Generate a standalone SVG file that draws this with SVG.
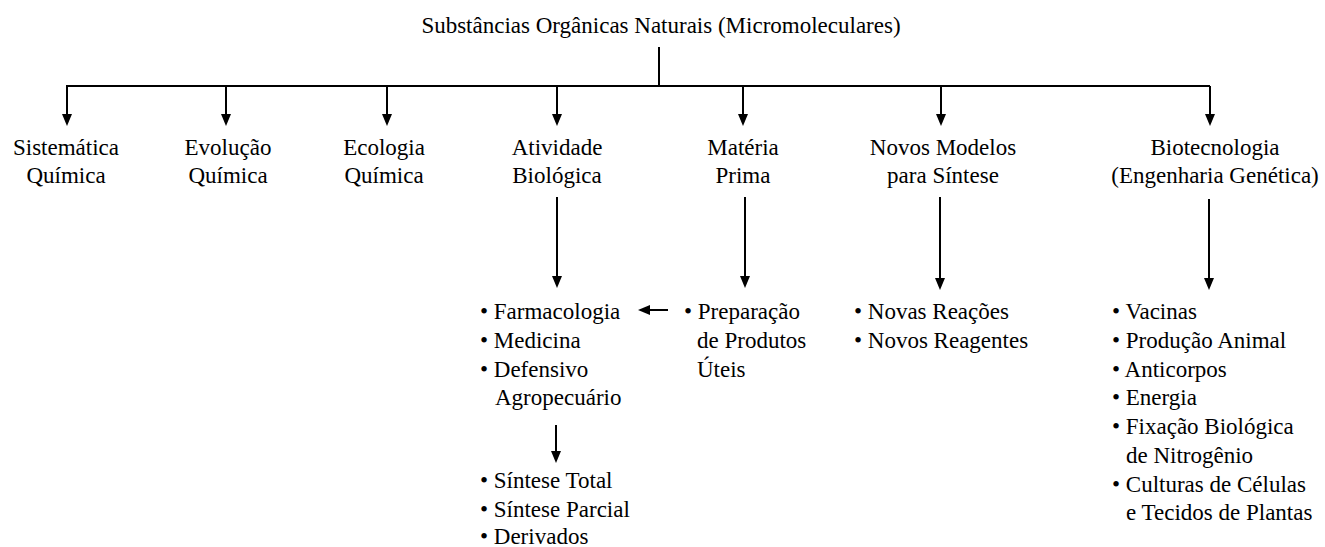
<svg xmlns="http://www.w3.org/2000/svg" width="1325" height="547" viewBox="0 0 1325 547" font-family="Liberation Serif, Times New Roman, serif" font-size="23">
<style>
text { fill: #000; }
.c { text-anchor: middle; }
.ln { stroke: #000; stroke-width: 2; fill: none; }
.arr { stroke: #000; stroke-width: 2; fill: none; marker-end: url(#ah); }
</style>
<defs>
<marker id="ah" viewBox="0 0 12 10" refX="6" refY="5" markerWidth="12" markerHeight="10" markerUnits="userSpaceOnUse" orient="auto">
<path d="M0,0 L12,5 L0,10 z" fill="#000"/>
</marker>
</defs>
<rect width="1325" height="547" fill="#fff"/>
<g id="connectors">
<line class="ln" x1="659" y1="47" x2="659" y2="86"/>
<line class="ln" x1="66" y1="86" x2="1210" y2="86" stroke-width="2.5"/>
<line class="arr" x1="67" y1="86" x2="67" y2="120"/>
<line class="arr" x1="226" y1="86" x2="226" y2="120"/>
<line class="arr" x1="387" y1="86" x2="387" y2="120"/>
<line class="arr" x1="557" y1="86" x2="557" y2="120"/>
<line class="arr" x1="743" y1="86" x2="743" y2="120"/>
<line class="arr" x1="941" y1="86" x2="941" y2="120"/>
<line class="arr" x1="1210" y1="86" x2="1210" y2="120"/>
<line class="arr" x1="557" y1="197" x2="557" y2="282"/>
<line class="arr" x1="745" y1="197" x2="745" y2="282"/>
<line class="arr" x1="940" y1="197" x2="940" y2="284"/>
<line class="arr" x1="1209" y1="199" x2="1209" y2="284"/>
<line class="arr" x1="556" y1="425" x2="556" y2="457"/>
<line class="arr" x1="668" y1="310" x2="644" y2="310"/>
</g>
<g id="root">
<text class="c" x="661" y="33">Substâncias Orgânicas Naturais (Micromoleculares)</text>
</g>
<g id="sistematica">
<text class="c" x="66" y="155">Sistemática</text>
<text class="c" x="66" y="183">Química</text>
</g>
<g id="evolucao">
<text class="c" x="228" y="155">Evolução</text>
<text class="c" x="228" y="183">Química</text>
</g>
<g id="ecologia">
<text class="c" x="384" y="155">Ecologia</text>
<text class="c" x="384" y="183">Química</text>
</g>
<g id="atividade">
<text class="c" x="557" y="155">Atividade</text>
<text class="c" x="557" y="183">Biológica</text>
</g>
<g id="materia">
<text class="c" x="743" y="155">Matéria</text>
<text class="c" x="743" y="183">Prima</text>
</g>
<g id="novos-modelos">
<text class="c" x="943" y="155">Novos Modelos</text>
<text class="c" x="943" y="183">para Síntese</text>
</g>
<g id="biotecnologia">
<text class="c" x="1215" y="155">Biotecnologia</text>
<text class="c" x="1215" y="183">(Engenharia Genética)</text>
</g>
<g id="list-atividade">
<text x="480" y="319">• Farmacologia</text>
<text x="480" y="348">• Medicina</text>
<text x="480" y="377">• Defensivo</text>
<text x="495" y="405">Agropecuário</text>
</g>
<g id="list-sintese">
<text x="480" y="488">• Síntese Total</text>
<text x="480" y="517">• Síntese Parcial</text>
<text x="480" y="544">• Derivados</text>
</g>
<g id="list-materia">
<text x="684" y="319">• Preparação</text>
<text x="697" y="348">de Produtos</text>
<text x="697" y="377">Úteis</text>
</g>
<g id="list-novos">
<text x="854" y="319">• Novas Reações</text>
<text x="854" y="348">• Novos Reagentes</text>
</g>
<g id="list-biotec">
<text x="1112" y="319">• Vacinas</text>
<text x="1112" y="348">• Produção Animal</text>
<text x="1112" y="377">• Anticorpos</text>
<text x="1112" y="405">• Energia</text>
<text x="1112" y="434">• Fixação Biológica</text>
<text x="1126" y="463">de Nitrogênio</text>
<text x="1112" y="492">• Culturas de Células</text>
<text x="1126" y="520">e Tecidos de Plantas</text>
</g>
</svg>
